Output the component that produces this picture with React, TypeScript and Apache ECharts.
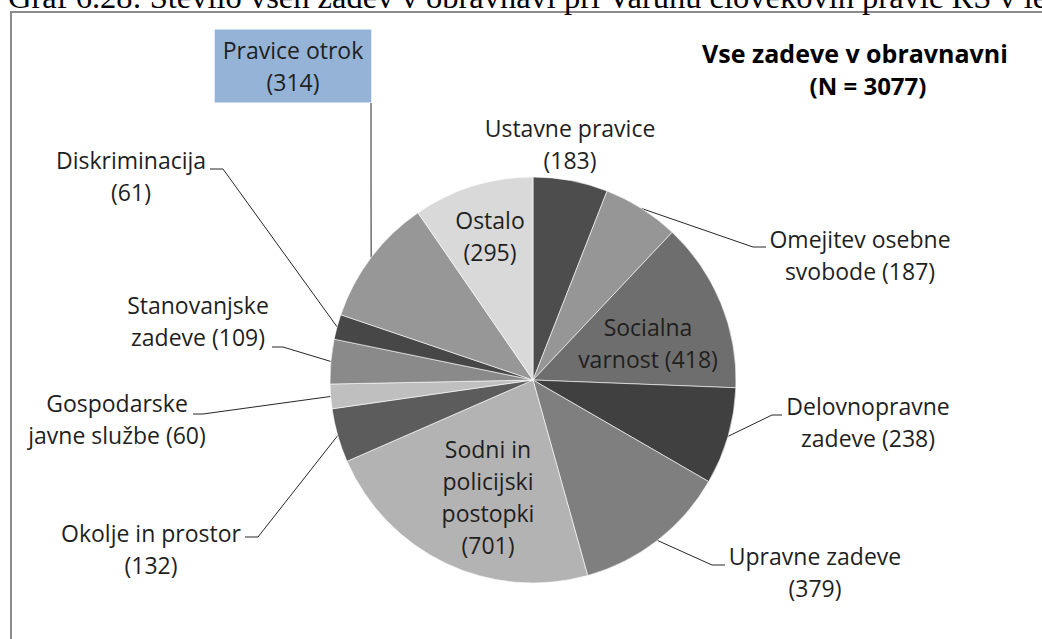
import React, { useEffect, useRef } from "react";
import * as echarts from "echarts";

const CATEGORIES = [
  "Ustavne pravice",
  "Omejitev osebne svobode",
  "Socialna varnost",
  "Delovnopravne zadeve",
  "Upravne zadeve",
  "Sodni in policijski postopki",
  "Okolje in prostor",
  "Gospodarske javne službe",
  "Stanovanjske zadeve",
  "Diskriminacija",
  "Pravice otrok",
  "Ostalo",
];
const VALUES = [183, 187, 418, 238, 379, 701, 132, 60, 109, 61, 314, 295];
const LABEL_TEXT = [
  "Ustavne pravice\n",
  "Omejitev osebne\nsvobode ",
  "Socialna\nvarnost ",
  "Delovnopravne\nzadeve ",
  "Upravne zadeve\n",
  "Sodni in\npolicijski\npostopki\n",
  "Okolje in prostor\n",
  "Gospodarske\njavne službe ",
  "Stanovanjske\nzadeve ",
  "Diskriminacija\n",
  "Pravice otrok\n",
  "Ostalo\n",
];
const INSIDE = [false, false, true, false, false, true, false, false, false, false, false, true];
const COLORS = [
  "#4d4d4d", "#969696", "#6e6e6e", "#404040", "#7f7f7f", "#b3b3b3",
  "#5c5c5c", "#bfbfbf", "#8a8a8a", "#474747", "#979797", "#d9d9d9",
];
const HEADER = "Graf 6.28: Število vseh zadev v obravnavi pri Varuhu človekovih pravic RS v letu";
const CHART_TITLE = ["Vse zadeve v obravnavni", "(N = 3077)"];

// label placement (layout only)
const LABEL_LAYOUT: { x: number; y: number; elbow?: number[]; end?: number[] }[] = [
  { x: 570, y: 144 },
  { x: 860, y: 255, elbow: [753, 247], end: [766, 247] },
  { x: 648, y: 343 },
  { x: 868, y: 422, elbow: [772, 415], end: [782, 415] },
  { x: 815, y: 572, elbow: [712, 565], end: [725, 565] },
  { x: 488, y: 497 },
  { x: 151, y: 549, elbow: [258, 537], end: [245, 537] },
  { x: 117, y: 419, elbow: [203, 414], end: [193, 414] },
  { x: 198, y: 321, elbow: [283, 347], end: [272, 347] },
  { x: 131, y: 176, elbow: [223, 169], end: [210, 169] },
  { x: 293, y: 66, elbow: [371, 180], end: [371, 103] },
  { x: 490, y: 236 },
];

export default function App() {
  const ref = useRef<HTMLDivElement>(null);
  useEffect(() => {
    if (!ref.current) return;
    const chart = echarts.init(ref.current, null, { renderer: "svg" });
    const data = CATEGORIES.map((name, i) => {
      const item: any = {
        name,
        value: VALUES[i],
        itemStyle: { color: COLORS[i] },
      };
      if (INSIDE[i]) {
        item.label = { position: "inside" };
        item.labelLine = { show: false };
      } else if (i === 0) {
        item.labelLine = { show: false };
      }
      if (i === 10) {
        item.label = {
          backgroundColor: "#95b3d7",
          padding: [5, 8, 4, 8],
        };
      }
      return item;
    });
    chart.setOption({
      animation: false,
      backgroundColor: "#ffffff",
      graphic: [
        {
          type: "rect",
          shape: { x: 11, y: 12, width: 1100, height: 700 },
          style: { fill: "none", stroke: "#8c8c8c", lineWidth: 2 },
          silent: true,
        },
        {
          type: "text",
          x: 8,
          y: -3,
          style: {
            text: HEADER,
            font: "32.5px 'Liberation Serif', 'Times New Roman', serif",
            fill: "#000",
            verticalAlign: "middle",
            align: "left",
          },
        },
        {
          type: "text",
          x: 855,
          y: 53,
          style: {
            text: CHART_TITLE[0],
            font: "bold 25px 'Open Sans', sans-serif",
            fill: "#000",
            align: "center",
            verticalAlign: "middle",
          },
        },
        {
          type: "text",
          x: 868,
          y: 85,
          style: {
            text: CHART_TITLE[1],
            font: "bold 24px 'Open Sans', sans-serif",
            fill: "#000",
            align: "center",
            verticalAlign: "middle",
          },
        },
      ],
      series: [
        {
          type: "pie",
          center: [533, 380],
          radius: 203,
          startAngle: 90,
          clockwise: true,
          avoidLabelOverlap: false,
          data,
          itemStyle: { borderColor: "#ffffff", borderWidth: 0.6 },
          label: {
            show: true,
            position: "outside",
            formatter: (p: any) => LABEL_TEXT[p.dataIndex] + "(" + p.value + ")",
            fontFamily: "'Open Sans', sans-serif",
            fontSize: 23,
            lineHeight: 32,
            color: "#1f1f1f",
            align: "center",
          },
          labelLine: {
            show: true,
            lineStyle: { color: "#262626", width: 1 },
          },
          emphasis: { disabled: true },
          labelLayout: (params: any) => {
            const lay = LABEL_LAYOUT[params.dataIndex];
            const res: any = { x: lay.x, y: lay.y, align: "center", verticalAlign: "middle" };
            if (lay.elbow && params.labelLinePoints && params.labelLinePoints.length) {
              const start = params.labelLinePoints[0];
              res.labelLinePoints = [start, lay.elbow, lay.end];
            }
            return res;
          },
        },
      ],
    });
    return () => chart.dispose();
  }, []);
  return (
    <div
      ref={ref}
      style={{ position: "absolute", left: 0, top: 0, width: 1042, height: 639 }}
    />
  );
}
